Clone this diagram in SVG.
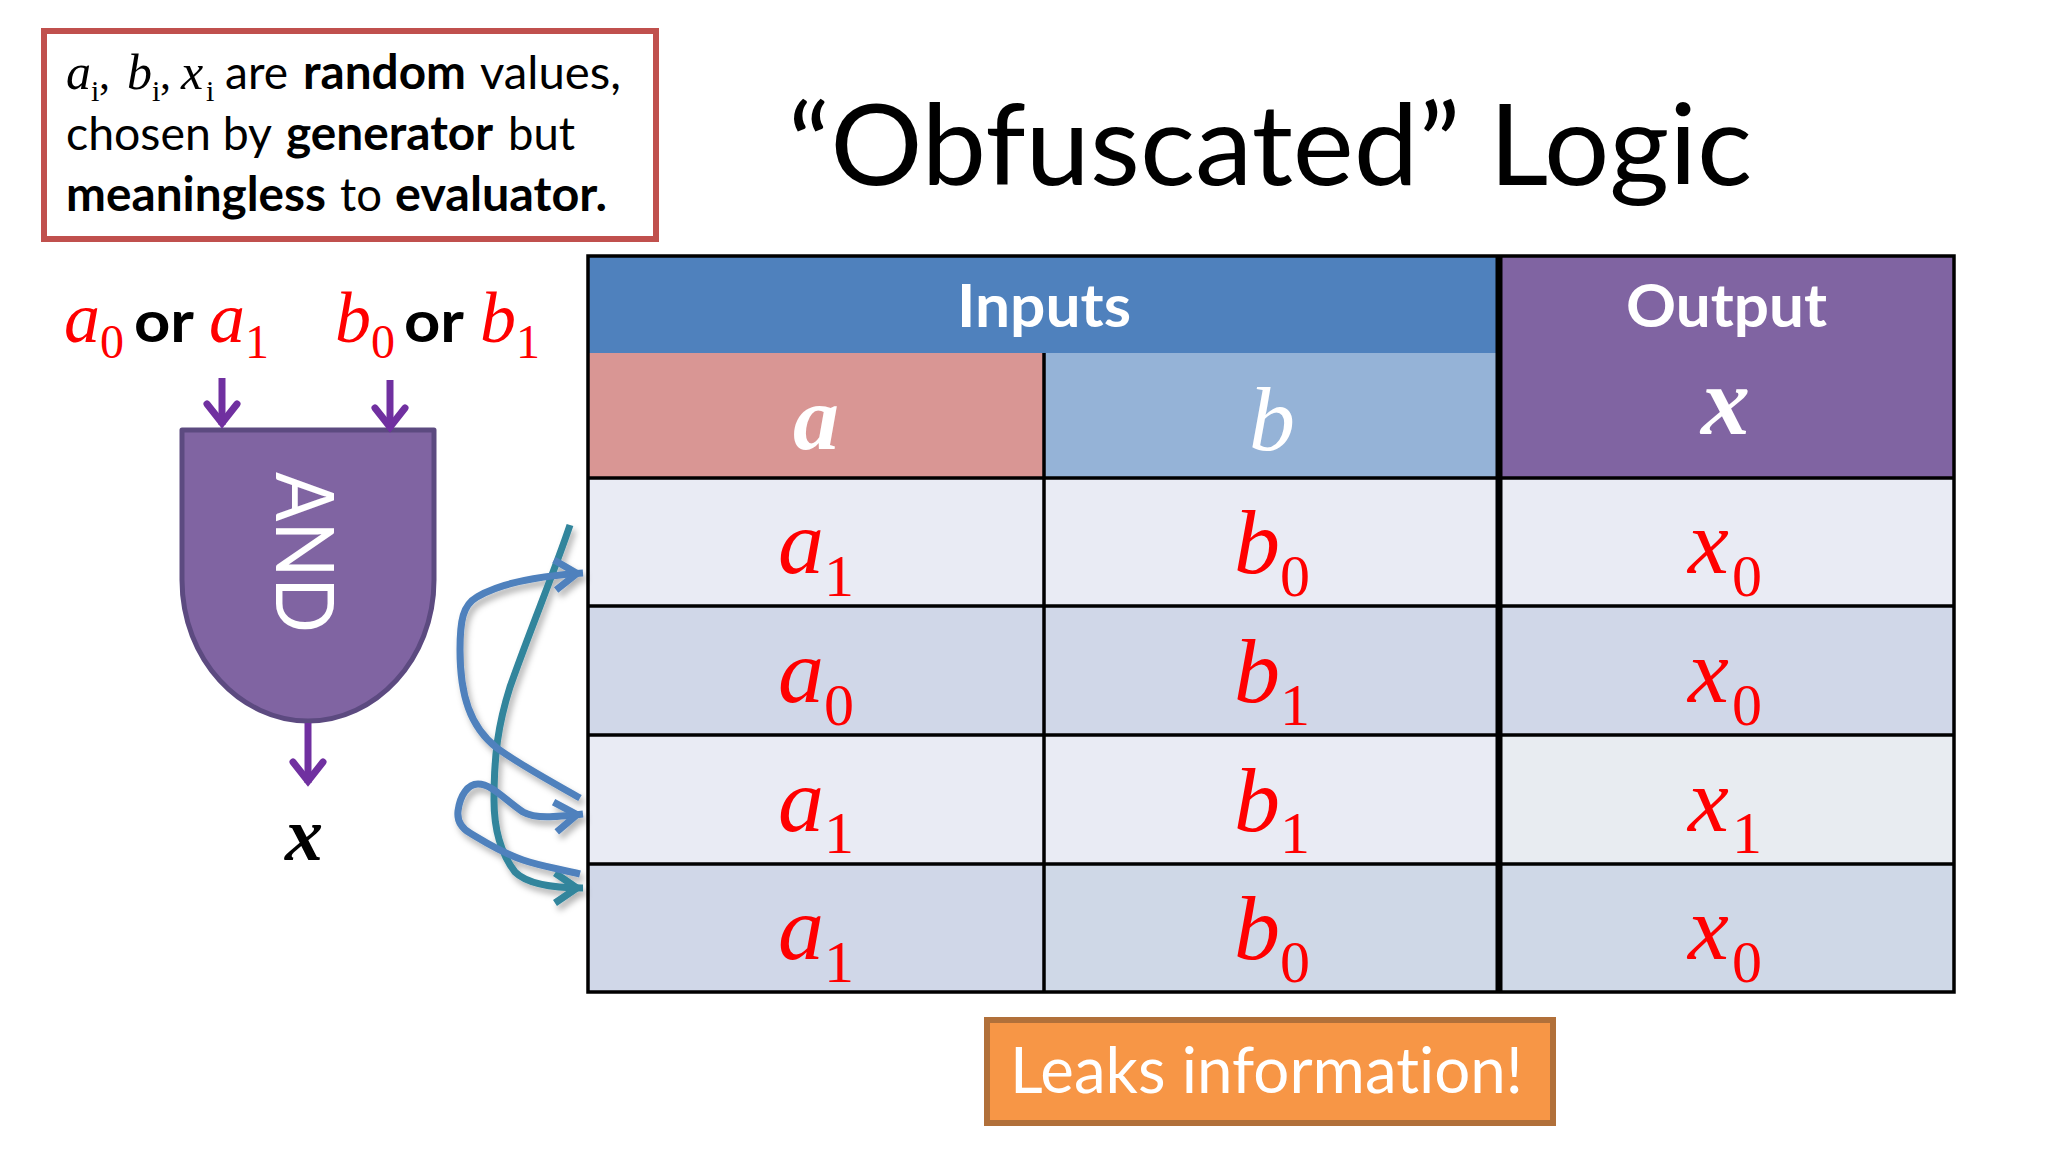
<svg xmlns="http://www.w3.org/2000/svg" width="2048" height="1152" viewBox="0 0 2048 1152">
<style>
.s{font-family:"Lato","Liberation Sans",sans-serif;font-variant-ligatures:none}
.t{font-family:"Liberation Serif","Times New Roman",serif;font-style:italic}
.d{font-family:"Liberation Serif","Times New Roman",serif}
.red{fill:#ff0000}
.cv{font-size:92px}
.cs{font-size:60px}
.n{font-size:47px;fill:#000}
.b{font-weight:700}
.grid{stroke:#000;stroke-width:3.5;fill:none}
.wire{fill:none;stroke:#7030a0;stroke-width:7}
.bl{fill:none;stroke:#4f81bd;stroke-width:7}
.te{fill:none;stroke:#31859c;stroke-width:7}
</style>
<defs>
<marker id="ap" markerUnits="userSpaceOnUse" markerWidth="44" markerHeight="44" refX="38" refY="22" orient="auto"><path d="M17 7 L36 22 L17 37" fill="none" stroke="#7030a0" stroke-width="7" stroke-linecap="round"/></marker>
<marker id="ab" markerUnits="userSpaceOnUse" markerWidth="44" markerHeight="44" refX="39" refY="22" orient="auto"><path d="M11 7 L33 22 L11 37" fill="none" stroke="#4f81bd" stroke-width="7"/></marker>
<marker id="at" markerUnits="userSpaceOnUse" markerWidth="44" markerHeight="44" refX="39" refY="22" orient="auto"><path d="M11 7 L33 22 L11 37" fill="none" stroke="#31859c" stroke-width="7"/></marker>
<filter id="sh" x="-20%" y="-20%" width="150%" height="150%"><feDropShadow dx="3" dy="5" stdDeviation="3" flood-color="#000" flood-opacity="0.3"/></filter>
</defs>
<rect width="2048" height="1152" fill="#fff"/>

<g id="title"><text class="s" x="788" y="185" font-size="112" fill="#000" textLength="964" lengthAdjust="spacingAndGlyphs">“Obfuscated” Logic</text></g>

<g id="note">
<rect x="44" y="31" width="612" height="208" fill="#fff" stroke="#c0504d" stroke-width="6"/>
<text class="t" x="66" y="89" font-size="50">a</text><text class="d" x="91" y="101" font-size="30">i</text><text class="d" x="99" y="89" font-size="44">,</text>
<text class="t" x="127" y="89" font-size="50">b</text><text class="d" x="152" y="101" font-size="30">i</text><text class="d" x="160" y="89" font-size="44">,</text>
<text class="t" x="181" y="89" font-size="50">x</text><text class="d" x="206" y="101" font-size="30">i</text>
<text class="s n" x="225" y="89" textLength="63" lengthAdjust="spacingAndGlyphs">are</text>
<text class="s n b" x="303" y="89" textLength="163" lengthAdjust="spacingAndGlyphs">random</text>
<text class="s n" x="480" y="89" textLength="141" lengthAdjust="spacingAndGlyphs">values,</text>
<text class="s n" x="66" y="150" textLength="206" lengthAdjust="spacingAndGlyphs">chosen by</text>
<text class="s n b" x="286" y="150" textLength="207" lengthAdjust="spacingAndGlyphs">generator</text>
<text class="s n" x="508" y="150" textLength="67" lengthAdjust="spacingAndGlyphs">but</text>
<text class="s n b" x="66" y="211" textLength="260" lengthAdjust="spacingAndGlyphs">meaningless</text>
<text class="s n" x="340" y="211" textLength="42" lengthAdjust="spacingAndGlyphs">to</text>
<text class="s n b" x="395" y="211" textLength="212" lengthAdjust="spacingAndGlyphs">evaluator.</text>
</g>

<g id="gate-inputs">
<text class="t red" x="64" y="342" font-size="72">a</text><text class="d red" x="100" y="358" font-size="48">0</text>
<text class="s b" x="134" y="342" font-size="58" textLength="60" lengthAdjust="spacingAndGlyphs">or</text>
<text class="t red" x="209" y="342" font-size="72">a</text><text class="d red" x="245" y="358" font-size="48">1</text>
<text class="t red" x="335" y="342" font-size="72">b</text><text class="d red" x="371" y="358" font-size="48">0</text>
<text class="s b" x="404" y="342" font-size="58" textLength="60" lengthAdjust="spacingAndGlyphs">or</text>
<text class="t red" x="480" y="342" font-size="72">b</text><text class="d red" x="516" y="358" font-size="48">1</text>
</g>

<g id="and-gate">
<path d="M182 430 H434 V580 C434 660 375 721 308 721 C241 721 182 660 182 580 Z" fill="#8064a2" stroke="#5c4a80" stroke-width="5" stroke-linejoin="round"/>
<text class="s" transform="translate(276 472) rotate(90)" font-size="82" fill="#fff" font-weight="400" textLength="161" lengthAdjust="spacingAndGlyphs">AND</text>
</g>
<g id="gate-output"><text class="t b" x="285" y="860" font-size="76" fill="#000">x</text></g>

<g id="table">
<rect x="589" y="257" width="912" height="96" fill="#4f81bd"/>
<rect x="1501" y="257" width="453" height="221" fill="#8064a2"/>
<rect x="589" y="353" width="455" height="125" fill="#d99694"/>
<rect x="1044" y="353" width="456" height="125" fill="#95b3d7"/>
<rect x="589" y="478" width="1365" height="129" fill="#e9ebf4"/>
<rect x="589" y="607" width="1365" height="129" fill="#d0d7e8"/>
<rect x="589" y="736" width="1365" height="129" fill="#e9ebf4"/>
<rect x="589" y="865" width="1365" height="128" fill="#d0d7e8"/>
<rect x="1044" y="865" width="910" height="128" fill="#cfd8e7"/>
<rect x="1501" y="736" width="453" height="129" fill="#e8ecf1"/>
<path class="grid" d="M588 256 H1954 V992 H588 Z M588 478 H1954 M588 606 H1954 M588 735 H1954 M588 864 H1954 M1044 353 V992"/>
<path d="M1499 256 V992" stroke="#000" stroke-width="7"/>
<text class="s b" x="957" y="327" font-size="60" fill="#fff" textLength="174" lengthAdjust="spacingAndGlyphs">Inputs</text>
<text class="s b" x="1626" y="327" font-size="60" fill="#fff" textLength="201" lengthAdjust="spacingAndGlyphs">Output</text>
<text class="t b" x="793" y="449" font-size="92" fill="#fff">a</text>
<text class="t" x="1249" y="450" font-size="92" fill="#fff">b</text>
<text class="t b" x="1701" y="434" font-size="98" fill="#fff">x</text>

<g id="row1"><text class="t red cv" x="778" y="573">a</text><text class="d red cs" x="824" y="596">1</text><text class="t red cv" x="1234" y="573">b</text><text class="d red cs" x="1280" y="596">0</text><text class="t red cv" x="1688" y="573">x</text><text class="d red cs" x="1732" y="596">0</text></g>
<g id="row2"><text class="t red cv" x="778" y="702">a</text><text class="d red cs" x="824" y="725">0</text><text class="t red cv" x="1234" y="702">b</text><text class="d red cs" x="1280" y="725">1</text><text class="t red cv" x="1688" y="702">x</text><text class="d red cs" x="1732" y="725">0</text></g>
<g id="row3"><text class="t red cv" x="778" y="831">a</text><text class="d red cs" x="824" y="853">1</text><text class="t red cv" x="1234" y="831">b</text><text class="d red cs" x="1280" y="853">1</text><text class="t red cv" x="1688" y="831">x</text><text class="d red cs" x="1732" y="853">1</text></g>
<g id="row4"><text class="t red cv" x="778" y="959">a</text><text class="d red cs" x="824" y="982">1</text><text class="t red cv" x="1234" y="959">b</text><text class="d red cs" x="1280" y="982">0</text><text class="t red cv" x="1688" y="959">x</text><text class="d red cs" x="1732" y="982">0</text></g>
</g>

<g id="callout">
<rect x="987" y="1020" width="566" height="103" fill="#f79646" stroke="#b1703a" stroke-width="6"/>
<text class="s" x="1010" y="1093" font-size="64" fill="#fff" textLength="513" lengthAdjust="spacingAndGlyphs">Leaks information!</text>
</g>

<g id="connectors">
<path class="wire" d="M222 378 V425" marker-end="url(#ap)"/>
<path class="wire" d="M390 380 V429" marker-end="url(#ap)"/>
<path class="wire" d="M308 723 V783" marker-end="url(#ap)"/>
<g filter="url(#sh)">
<path class="te" d="M570 525 C555 570 530 630 510 687 C498 725 494 755 494 800 C494 830 502 855 515 872 C528 885 555 888 583 888" marker-end="url(#at)"/>
<path class="bl" d="M580 798 C550 781 520 765 497 748 C470 727 460 695 460 650 C460 620 463 605 477 597 C500 583 540 576 583 573" marker-end="url(#ab)"/>
<path class="bl" d="M580 874 C560 869 540 866 523 860 C500 852 485 842 470 833 C460 827 457 820 458 811 C460 795 468 784 478 784 C492 784 505 800 523 812 C535 819 555 817 583 814" marker-end="url(#ab)"/>
</g>
</g>
</svg>
